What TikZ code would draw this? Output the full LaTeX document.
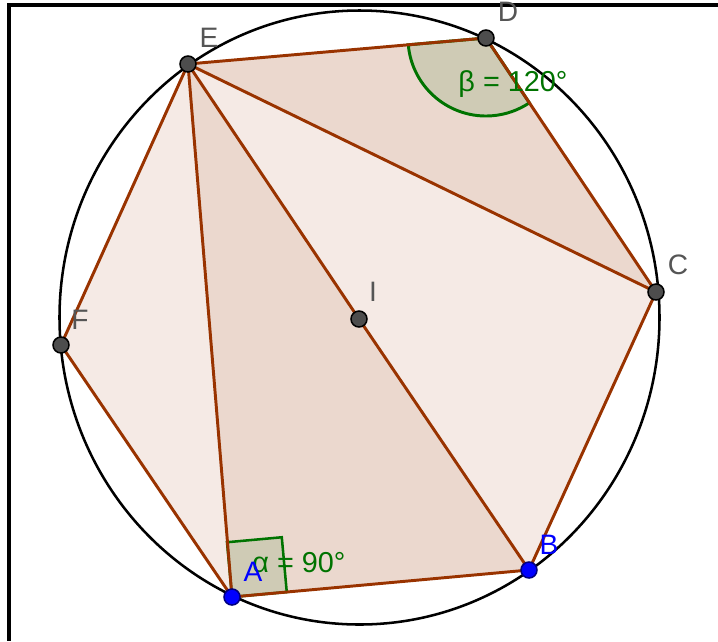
\documentclass[tikz,border=0pt]{standalone}
\usepackage{fontspec}
\setmainfont{Liberation Sans}
\usepackage{tikz}
\usetikzlibrary{positioning}
\definecolor{polybrown}{RGB}{153,51,0}
\definecolor{anglegreen}{RGB}{0,115,0}
\definecolor{ptgray}{RGB}{77,77,77}
\definecolor{labelgray}{RGB}{85,85,85}
\definecolor{ptblue}{RGB}{0,0,255}
\newcommand{\graypoint}[1]{
\draw[line width=1.1pt, fill=ptgray] (#1) circle (8);
}
\newcommand{\bluepoint}[1]{
\draw[line width=1.1pt, draw=blue!50!black, fill=ptblue] (#1) circle (8);
}
\tikzset{
    edge/.style={draw=polybrown, line width=2.1pt},
    ptlabel/.style={text=labelgray, font=\fontsize{20}{24}\selectfont, inner sep=0pt},
    anglelabel/.style={text=anglegreen, font=\fontsize{20.5}{24}\selectfont, inner sep=0pt}
}

\begin{document}
\begin{tikzpicture}[x=0.025cm, y=-0.025cm]
    \useasboundingbox (0,0) rectangle (718,641);
    % frame
    \draw[line width=2.2pt] (718,5) -- (9,5) -- (9,641);
    % points of the hexagon
    \coordinate (A) at (232,597);
    \coordinate (B) at (529,570);
    \coordinate (C) at (656,292);
    \coordinate (D) at (486,38);
    \coordinate (E) at (188,64);
    \coordinate (F) at (61,345);
    \coordinate (I) at (359,319);
    % fills
    \fill[polybrown, fill opacity=0.1] (A) -- (B) -- (C) -- (D) -- (E) -- (F) -- cycle;
    \fill[polybrown, fill opacity=0.1] (E) -- (D) -- (C) -- cycle;
    \fill[polybrown, fill opacity=0.1] (E) -- (A) -- (B) -- cycle;
    % angles
    \draw[anglegreen, line width=2.1pt, fill=anglegreen, fill opacity=0.12]
        (D) -- ++(175:78) arc (175:56.2:78) -- cycle;
    \draw[anglegreen, line width=1.8pt, fill=anglegreen, fill opacity=0.12]
        (A) -- ++(-5.2:55) -- ++(-95.2:55) -- ++(-185.2:55) -- cycle;
    % edges and diagonals
    \draw[edge] (A) -- (B) -- (C) -- (D) -- (E) -- (F) -- cycle;
    \draw[edge] (E) -- (C);
    \draw[edge] (E) -- (I) -- (B);
    \draw[edge] (E) -- (A);
    % circle
    \draw[line width=1.8pt] (359.5,317.5) ellipse (300 and 307);
    % labels
    \node[anglelabel] (beta) at (513,84) {β = 120°};
    \node[anglelabel] (alpha) at (299,563) {α = 90°};
    \node[ptlabel] (labE) at (209,38) {E};
    \node[ptlabel] (labD) at (508,12) {D};
    \node[ptlabel] (labC) at (678,265) {C};
    \node[ptlabel] (labI) at (373,292) {I};
    \node[ptlabel] (labF) at (80,320) {F};
    \node[ptlabel, text=ptblue] (labA) at (253,572) {A};
    \node[ptlabel, text=ptblue] (labB) at (549,545) {B};
    % points
    \graypoint{C} \graypoint{D} \graypoint{E} \graypoint{F} \graypoint{I}
    \bluepoint{A} \bluepoint{B}
\end{tikzpicture}
\end{document}
